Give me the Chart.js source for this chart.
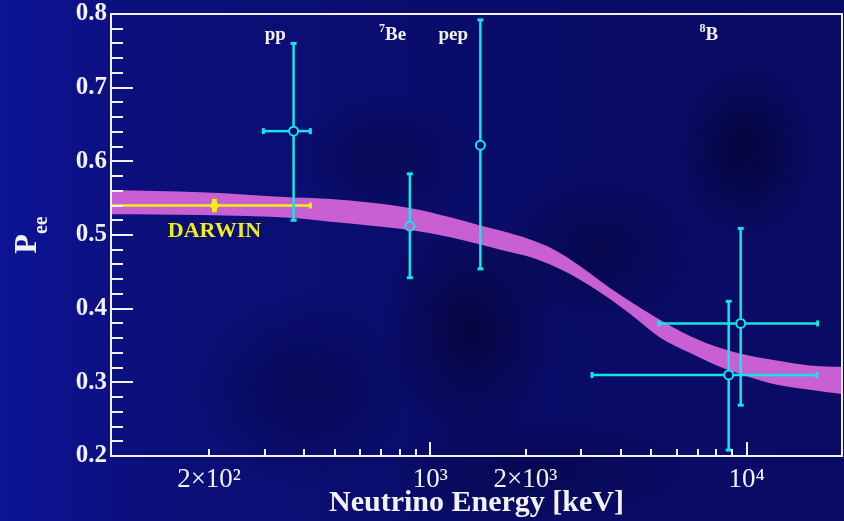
<!DOCTYPE html>
<html>
<head>
<meta charset="utf-8">
<title>Pee vs neutrino energy</title>
<script src="https://cdn.jsdelivr.net/npm/chart.js@4.4.0/dist/chart.umd.min.js"></script>
<style>
  html, body { margin: 0; padding: 0; }
  body {
    width: 844px; height: 521px; overflow: hidden;
    background:
      radial-gradient(ellipse 90px 120px at 470px 330px, rgba(0,0,25,0.5), rgba(0,0,25,0)),
      radial-gradient(ellipse 70px 90px at 745px 150px, rgba(0,0,25,0.55), rgba(0,0,25,0)),
      radial-gradient(ellipse 100px 80px at 600px 250px, rgba(0,0,25,0.35), rgba(0,0,25,0)),
      radial-gradient(ellipse 120px 100px at 300px 390px, rgba(0,0,25,0.3), rgba(0,0,25,0)),
      radial-gradient(ellipse 160px 60px at 540px 470px, rgba(0,0,25,0.3), rgba(0,0,25,0)),
      radial-gradient(ellipse 90px 70px at 380px 160px, rgba(0,0,25,0.3), rgba(0,0,25,0)),
      linear-gradient(90deg, #0d1496 0%, #0b0f7a 18%, #0a0c6a 55%, #090b64 100%);
  }
  canvas { display: block; }
</style>
</head>
<body>
<canvas id="chart" width="844" height="521"></canvas>
<script>
// --- axis ranges and ticks ---
const energyMin = 98;
const energyMax = 20000;
const pTicks = [0.2, 0.3, 0.4, 0.5, 0.6, 0.7, 0.8];
const energyTicks = [200, 300, 400, 500, 600, 700, 800, 900,
                     1000, 2000, 3000, 4000, 5000, 6000, 7000, 8000, 9000, 10000];
const energyTickLabels = { 200: '2×10²', 1000: '10³', 2000: '2×10³', 10000: '10⁴' };

// --- MSW-LMA prediction band ---
const bandE     = [98,    188,   370,   484,   852,   1157,  1438,  1663,  2068,  2390,  2764,
                   3196,  3697,  4275,  5316,  6611,  8219,  10221, 12709, 15800, 20000];
const bandUpper = [0.561, 0.558, 0.551, 0.549, 0.537, 0.524, 0.513, 0.506, 0.494, 0.483, 0.467,
                   0.448, 0.428, 0.410, 0.385, 0.363, 0.347, 0.336, 0.329, 0.323, 0.321];
const bandLower = [0.528, 0.527, 0.523, 0.518, 0.507, 0.497, 0.487, 0.480, 0.470, 0.460, 0.447,
                   0.431, 0.413, 0.393, 0.361, 0.340, 0.321, 0.307, 0.296, 0.290, 0.284];

// --- measurements (pp, 7Be, pep, 8B, 8B) ---
const measE   = [370,   862,   1440,  8770,  9570];
const measP   = [0.641, 0.512, 0.622, 0.310, 0.380];
const measPHi = [0.760, 0.583, 0.792, 0.410, 0.509];
const measPLo = [0.520, 0.442, 0.454, 0.208, 0.269];
const measELo = [297,   null,  null,  3245,  5270];
const measEHi = [418,   null,  null,  16640, 16750];

// --- DARWIN projection ---
const darwinE   = 208;
const darwinP   = 0.540;
const darwinELo = 98;
const darwinEHi = 418;
const darwinPLo = 0.531;
const darwinPHi = 0.549;

// --- source labels along the top ---
const sourceSup  = ['',   '7',  '',    '8'];
const sourceName = ['pp', 'Be', 'pep', 'B'];
const sourceAtE  = [324,  760,  1182,  7590];

const cyan = '#14e6e6';
const yellow = '#f0ee12';
const bandColor = '#c85fd3';
const white = '#f2f2f6';
const serif = '"Liberation Serif", "Times New Roman", serif';

// error bars for the points, drawn through the chart scales
const errorBars = {
  id: 'errorBars',
  afterDatasetsDraw(chart) {
    const { ctx, chartArea: a } = chart;
    const x = chart.scales.x, y = chart.scales.y;
    ctx.save();
    ctx.beginPath();
    ctx.rect(a.left, a.top, a.right - a.left, a.bottom - a.top);
    ctx.clip();
    ctx.lineCap = 'butt';

    const cap = (cx, cy, vertical) => {
      ctx.beginPath();
      if (vertical) { ctx.moveTo(cx - 3, cy); ctx.lineTo(cx + 3, cy); }
      else { ctx.moveTo(cx, cy - 3); ctx.lineTo(cx, cy + 3); }
      ctx.lineWidth = 3;
      ctx.stroke();
    };
    const seg = (x1, y1, x2, y2) => {
      ctx.beginPath(); ctx.moveTo(x1, y1); ctx.lineTo(x2, y2);
      ctx.lineWidth = 2.5; ctx.stroke();
    };

    // DARWIN
    ctx.strokeStyle = yellow;
    const dx = x.getPixelForValue(darwinE), dy = y.getPixelForValue(darwinP);
    const dl = x.getPixelForValue(darwinELo), dr = x.getPixelForValue(darwinEHi);
    seg(dl, dy, dr, dy);
    cap(dr, dy, false);
    ctx.beginPath();
    ctx.moveTo(dx, y.getPixelForValue(darwinPLo));
    ctx.lineTo(dx, y.getPixelForValue(darwinPHi));
    ctx.lineWidth = 5; ctx.stroke();

    // measurements
    ctx.strokeStyle = cyan;
    const r = 5;
    measE.forEach((e, i) => {
      const cx = x.getPixelForValue(e), cy = y.getPixelForValue(measP[i]);
      const top = y.getPixelForValue(measPHi[i]), bot = y.getPixelForValue(measPLo[i]);
      seg(cx, top, cx, cy - r);
      seg(cx, cy + r, cx, bot);
      cap(cx, top, true); cap(cx, bot, true);
      if (measELo[i] !== null) {
        const l = x.getPixelForValue(measELo[i]), rr = x.getPixelForValue(measEHi[i]);
        seg(l, cy, cx - r, cy);
        seg(cx + r, cy, rr, cy);
        cap(l, cy, false); cap(rr, cy, false);
      }
    });
    ctx.restore();
  }
};

// frame, inward ticks and the text annotations
const frameAndText = {
  id: 'frameAndText',
  afterDraw(chart) {
    const { ctx, chartArea: a } = chart;
    const x = chart.scales.x, y = chart.scales.y;
    ctx.save();
    ctx.strokeStyle = white;
    ctx.lineWidth = 2;
    ctx.strokeRect(a.left, a.top, a.right - a.left, a.bottom - a.top);

    ctx.beginPath();
    for (let k = 10; k <= 40; k++) {
      const py = Math.round(y.getPixelForValue(k / 50));
      const len = (k % 5 === 0) ? 22 : 12;
      ctx.moveTo(a.left, py); ctx.lineTo(a.left + len, py);
    }
    energyTicks.forEach(v => {
      const ppx = Math.round(x.getPixelForValue(v));
      const major = Math.abs(Math.log10(v) - Math.round(Math.log10(v))) < 1e-9;
      ctx.moveTo(ppx, a.bottom); ctx.lineTo(ppx, a.bottom - (major ? 14 : 7));
    });
    ctx.stroke();

    // source names
    ctx.fillStyle = white;
    ctx.textBaseline = 'alphabetic';
    const labelY = a.top + 26;
    sourceName.forEach((name, i) => {
      ctx.font = 'bold 19px ' + serif;
      const wMain = ctx.measureText(name).width;
      ctx.font = 'bold 12px ' + serif;
      const wSup = sourceSup[i] ? ctx.measureText(sourceSup[i]).width : 0;
      const cx = x.getPixelForValue(sourceAtE[i]);
      const left = cx - (wMain + wSup) / 2;
      ctx.textAlign = 'left';
      if (sourceSup[i]) ctx.fillText(sourceSup[i], left, labelY - 8);
      ctx.font = 'bold 19px ' + serif;
      ctx.fillText(name, left + wSup, labelY);
    });

    // DARWIN tag under its point
    ctx.fillStyle = yellow;
    ctx.font = 'bold 22px ' + serif;
    ctx.textAlign = 'center';
    ctx.fillText('DARWIN', x.getPixelForValue(darwinE), y.getPixelForValue(darwinP) + 31);

    // y axis title P_ee
    ctx.fillStyle = white;
    ctx.translate(36, (a.top + a.bottom) / 2);
    ctx.rotate(-Math.PI / 2);
    ctx.font = 'bold 32px ' + serif;
    const wP = ctx.measureText('P').width;
    ctx.font = 'bold 20px ' + serif;
    const wE = ctx.measureText('ee').width;
    ctx.textAlign = 'left';
    const start = -(wP + wE) / 2;
    ctx.font = 'bold 32px ' + serif;
    ctx.fillText('P', start, 0);
    ctx.font = 'bold 20px ' + serif;
    ctx.fillText('ee', start + wP, 11);
    ctx.restore();
  }
};

new Chart(document.getElementById('chart'), {
  type: 'line',
  data: {
    datasets: [
      {
        data: bandE.map((e, i) => ({ x: e, y: bandLower[i] })),
        borderWidth: 0, pointRadius: 0, fill: false,
        cubicInterpolationMode: 'monotone', order: 3
      },
      {
        data: bandE.map((e, i) => ({ x: e, y: bandUpper[i] })),
        borderWidth: 0, pointRadius: 0, fill: '-1', backgroundColor: bandColor,
        cubicInterpolationMode: 'monotone', order: 3
      },
      {
        data: [{ x: darwinE, y: darwinP }],
        showLine: false, pointStyle: 'rectRot', pointRadius: 5,
        pointBackgroundColor: yellow, pointBorderColor: yellow, order: 1
      },
      {
        data: measE.map((e, i) => ({ x: e, y: measP[i] })),
        showLine: false, pointRadius: 4.5, pointBorderWidth: 2,
        pointBorderColor: cyan, pointBackgroundColor: 'rgba(0,0,0,0)', order: 1
      }
    ]
  },
  options: {
    responsive: false,
    animation: false,
    events: [],
    layout: { autoPadding: false, padding: { top: 14, right: 2, left: 0, bottom: 0 } },
    plugins: { legend: { display: false }, tooltip: { enabled: false } },
    scales: {
      x: {
        type: 'logarithmic',
        min: energyMin, max: energyMax,
        grid: { display: false, drawTicks: false },
        border: { display: false },
        afterBuildTicks: s => { s.ticks = energyTicks.map(v => ({ value: v })); },
        afterFit: s => { s.height = 65; s.paddingLeft = 0; s.paddingRight = 0; },
        ticks: {
          autoSkip: false, maxRotation: 0, padding: 8,
          color: white, font: { family: serif, size: 27 },
          callback: v => energyTickLabels[v] || ''
        },
        title: {
          display: true, text: 'Neutrino Energy [keV]', color: white,
          font: { family: serif, size: 30, weight: 'bold' }, padding: { top: 0, bottom: 0 }
        }
      },
      y: {
        min: 0.2, max: 0.8,
        grid: { display: false, drawTicks: false },
        border: { display: false },
        afterBuildTicks: s => { s.ticks = pTicks.map(v => ({ value: v })); },
        afterFit: s => { s.width = 111; s.paddingTop = 0; s.paddingBottom = 0; },
        ticks: {
          padding: 4, color: white,
          font: { family: serif, size: 25, weight: 'bold' },
          callback: v => v.toFixed(1)
        }
      }
    }
  },
  plugins: [errorBars, frameAndText]
});
</script>
</body>
</html>
